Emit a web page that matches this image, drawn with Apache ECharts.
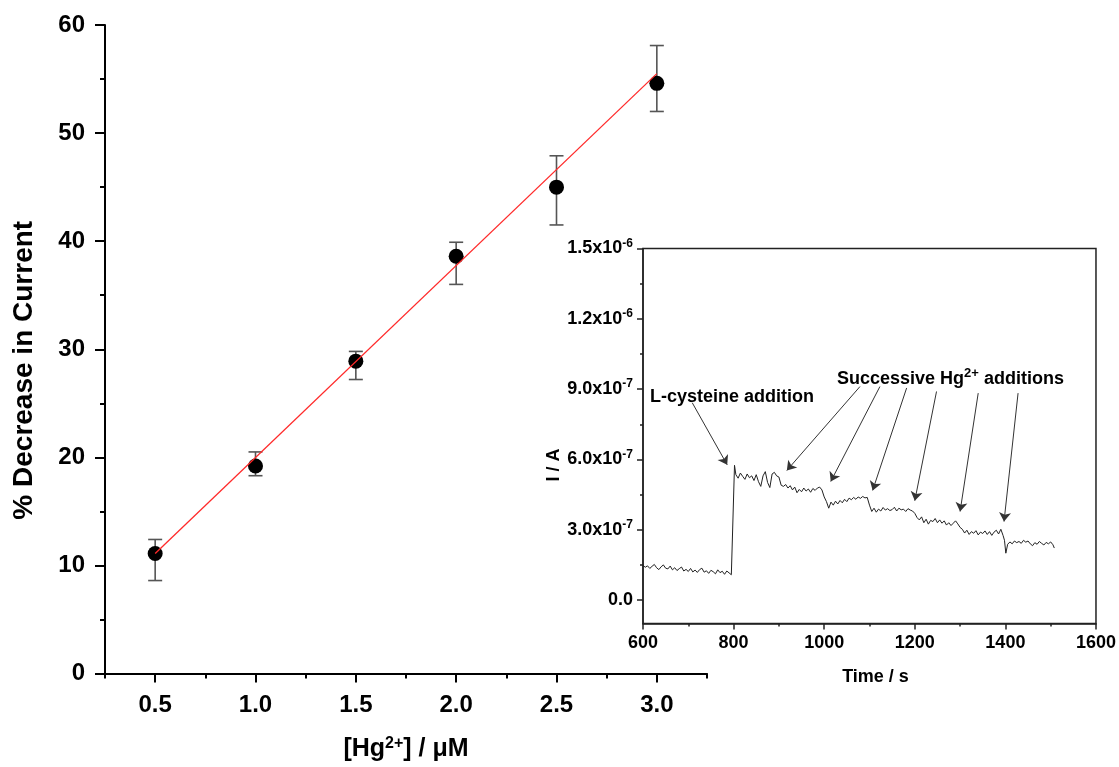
<!DOCTYPE html>
<html>
<head>
<meta charset="utf-8">
<script src="https://cdn.jsdelivr.net/npm/echarts@6/dist/echarts.min.js"></script>
<style>html,body{margin:0;padding:0;background:#fff;}#c{width:1119px;height:767px;}</style>
</head>
<body>
<div id="c"></div>
<script>
// ---- Main calibration plot ----
const hgConc = [0.5, 1.0, 1.5, 2.0, 2.5, 3.0];
const decreasePct = [11.1, 19.2, 28.9, 38.6, 45.0, 54.6];
const errUpper = [12.4, 20.5, 29.8, 39.9, 47.9, 58.1];
const errLower = [8.6, 18.3, 27.2, 36.0, 41.5, 52.0];
const fitConc = [0.5, 3.0];
const fitPct = [11.1, 55.5];
const mainXTicks = [0.5, 1.0, 1.5, 2.0, 2.5, 3.0];
const mainXMinorTicks = [0.25, 0.75, 1.25, 1.75, 2.25, 2.75, 3.25];

// ---- Inset amperometric trace (current in units of 1e-7 A) ----
const traceTime = [
 600,605,610,615,620,625,630,635,640,645,650,655,660,665,670,675,680,685,690,695,
 700,705,710,715,720,725,730,735,740,745,750,755,760,765,770,775,780,785,790,795,
 799,802,805,810,815,820,825,830,835,840,845,850,855,860,865,870,875,880,885,890,895,
 900,905,910,915,920,925,930,935,940,945,950,955,960,965,970,975,980,985,990,995,
 1000,1005,1010,1015,1020,1025,1030,1035,1040,1045,1050,1055,1060,1065,1070,1075,1080,1085,1090,1095,
 1100,1105,1110,1115,1120,1125,1130,1135,1140,1145,1150,1155,1160,1165,1170,1175,1180,1185,1190,1195,
 1200,1205,1210,1215,1220,1225,1230,1235,1240,1245,1250,1255,1260,1265,1270,1275,1280,1285,1290,1295,
 1300,1305,1310,1315,1320,1325,1330,1335,1340,1345,1350,1355,1360,1365,1370,1375,1380,1385,1390,1395,
 1398,1401,1405,1410,1415,1420,1425,1430,1435,1440,1445,1450,1455,1460,1465,1470,1475,1480,1485,1490,1495,
 1500,1505,1508
];
const traceCurrent = [
 1.48,1.40,1.46,1.35,1.44,1.52,1.38,1.30,1.42,1.50,1.36,1.33,1.45,1.29,1.38,1.26,1.34,1.41,1.24,1.31,
 1.22,1.35,1.20,1.28,1.18,1.30,1.36,1.19,1.25,1.14,1.27,1.21,1.12,1.29,1.17,1.23,1.10,1.24,1.16,1.08,
 1.05,5.75,5.35,5.20,5.42,5.28,5.15,5.38,5.22,5.30,5.10,5.35,5.05,4.85,5.30,5.48,5.02,4.80,5.38,5.45,5.30,
 5.25,4.90,4.85,4.93,4.78,4.88,4.70,4.82,4.58,4.72,4.62,4.78,4.65,4.74,4.60,4.76,4.68,4.78,4.82,4.70,
 4.40,4.20,3.92,4.18,4.05,4.22,4.10,4.25,4.15,4.30,4.20,4.35,4.28,4.38,4.30,4.40,4.34,4.42,4.36,4.38,
 4.05,3.78,3.92,3.75,3.88,3.80,3.95,3.84,3.90,3.82,3.86,3.96,3.80,3.92,3.85,3.88,3.78,3.90,3.84,3.80,
 3.70,3.52,3.42,3.55,3.30,3.45,3.24,3.40,3.35,3.48,3.30,3.42,3.28,3.38,3.20,3.30,3.18,3.28,3.38,3.25,
 3.10,3.02,2.86,2.98,2.80,2.92,2.85,2.96,2.78,2.90,2.84,2.95,2.80,2.92,2.76,2.90,2.98,2.82,3.02,2.75,
 2.55,2.00,2.38,2.48,2.40,2.52,2.45,2.50,2.42,2.55,2.47,2.52,2.40,2.32,2.45,2.38,2.50,2.42,2.35,2.46,2.40,
 2.48,2.36,2.22
];
const insetXTickLabels = ['600', '800', '1000', '1200', '1400', '1600'];
const insetYTickValues = [0, 3, 6, 9, 12, 15];
const insetYTickLabels = ['0.0', '3.0x10{sup|-7}', '6.0x10{sup|-7}', '9.0x10{sup|-7}', '1.2x10{sup|-6}', '1.5x10{sup|-6}'];
const insetYMinorTicks = [1.5, 4.5, 7.5, 10.5, 13.5];

// Annotation arrows: [fromTime, fromCurrent, toTime, toCurrent]
const lcysArrow = [708.7, 8.42, 785.9, 5.77];
const hgArrowsFrom = [[1079, 9.11], [1123, 9.11], [1182, 9.05], [1248, 8.90], [1340, 8.83], [1428, 8.83]];
const hgArrowsTo = [[917.5, 5.53], [1014.5, 5.06], [1107, 4.68], [1200, 4.24], [1300, 3.78], [1397, 3.35]];

const FONT = "'Liberation Sans', Arial, sans-serif";
const chart = echarts.init(document.getElementById('c'), null, {renderer: 'canvas'});

const arrowData = [[{coord: [lcysArrow[0], lcysArrow[1]]}, {coord: [lcysArrow[2], lcysArrow[3]]}]]
  .concat(hgArrowsFrom.map((f, i) => [{coord: f}, {coord: hgArrowsTo[i]}]));

const option = {
  animation: false,
  backgroundColor: '#fff',
  grid: [
    {left: 105, top: 25, width: 602, height: 650},
    {left: 643, top: 248.5, width: 453, height: 375, show: true, borderColor: '#222', borderWidth: 1.5, backgroundColor: 'rgba(0,0,0,0)'}
  ],
  xAxis: [
    {
      type: 'value', gridIndex: 0, min: 0.25, max: 3.25, position: 'bottom',
      axisLine: {show: true, onZero: false, lineStyle: {color: '#000', width: 2}},
      axisTick: {show: true, customValues: mainXTicks, length: 9, lineStyle: {color: '#000', width: 2}},
      axisLabel: {show: true, customValues: mainXTicks, margin: 20, formatter: v => v.toFixed(1),
        color: '#000', fontSize: 24, fontWeight: 'bold', fontFamily: FONT},
      splitLine: {show: false},
      name: '[Hg{sup|2+}] / μM', nameLocation: 'middle', nameGap: 62,
      nameTextStyle: {color: '#000', fontSize: 25, fontWeight: 'bold', fontFamily: FONT,
        rich: {sup: {fontSize: 16, fontWeight: 'bold', fontFamily: FONT, color: '#000', padding: [0, 0, 12, 0]}}}
    },
    {
      type: 'value', gridIndex: 0, min: 0.25, max: 3.25, position: 'bottom',
      axisLine: {show: false, onZero: false},
      axisTick: {show: true, customValues: mainXMinorTicks, length: 5, lineStyle: {color: '#000', width: 2}},
      axisLabel: {show: false}, splitLine: {show: false}
    },
    {
      type: 'value', gridIndex: 1, min: 600, max: 1600, interval: 200, position: 'bottom',
      axisLine: {show: true, onZero: false, lineStyle: {color: '#222', width: 1.5}},
      axisTick: {show: true, length: 6, lineStyle: {color: '#222', width: 1.5}},
      minorTick: {show: true, splitNumber: 2, length: 3, lineStyle: {color: '#222', width: 1.5}},
      axisLabel: {margin: 11, color: '#000', fontSize: 18, fontWeight: 'bold', fontFamily: FONT,
        formatter: v => insetXTickLabels[Math.round((v - 600) / 200)] || ''},
      splitLine: {show: false},
      name: 'Time / s', nameLocation: 'middle', nameGap: 45,
      nameTextStyle: {color: '#000', fontSize: 18, fontWeight: 'bold', fontFamily: FONT, padding: [0, 0, 0, 12]}
    }
  ],
  yAxis: [
    {
      type: 'value', gridIndex: 0, min: 0, max: 60, interval: 10,
      axisLine: {show: true, onZero: false, lineStyle: {color: '#000', width: 2}},
      axisTick: {show: true, length: 10, lineStyle: {color: '#000', width: 2}},
      minorTick: {show: true, splitNumber: 2, length: 5, lineStyle: {color: '#000', width: 2}},
      axisLabel: {margin: 20, color: '#000', fontSize: 24, fontWeight: 'bold', fontFamily: FONT},
      splitLine: {show: false},
      name: '% Decrease in Current', nameLocation: 'middle', nameGap: 67, nameRotate: 90,
      nameTextStyle: {color: '#000', fontSize: 28, fontWeight: 'bold', fontFamily: FONT, padding: [0, 42, 0, 0]}
    },
    {
      type: 'value', gridIndex: 1, min: -1, max: 15, position: 'left',
      axisLine: {show: true, onZero: false, lineStyle: {color: '#222', width: 1.5}},
      axisTick: {show: true, customValues: insetYTickValues, length: 6, lineStyle: {color: '#222', width: 1.5}},
      axisLabel: {show: true, customValues: insetYTickValues, margin: 10,
        formatter: v => insetYTickLabels[insetYTickValues.indexOf(Math.round(v))] || '',
        color: '#000', fontSize: 18, fontWeight: 'bold', fontFamily: FONT,
        rich: {sup: {fontSize: 12, fontWeight: 'bold', fontFamily: FONT, color: '#000', padding: [0, 0, 10, 0]}}},
      splitLine: {show: false},
      name: 'I / A', nameLocation: 'middle', nameGap: 66, nameRotate: 90,
      nameTextStyle: {color: '#000', fontSize: 18, fontWeight: 'bold', fontFamily: FONT, padding: [0, 58, 0, 0]}
    },
    {
      type: 'value', gridIndex: 1, min: -1, max: 15, position: 'left',
      axisLine: {show: false, onZero: false},
      axisTick: {show: true, customValues: insetYMinorTicks, length: 3, lineStyle: {color: '#222', width: 1.5}},
      axisLabel: {show: false}, splitLine: {show: false}
    }
  ],
  series: [
    {
      type: 'custom', xAxisIndex: 0, yAxisIndex: 0, z: 3,
      data: hgConc.map((c, i) => [c, errLower[i], errUpper[i]]),
      encode: {x: 0, y: [1, 2]},
      renderItem: function (params, api) {
        const x = api.value(0);
        const lo = api.coord([x, api.value(1)]);
        const hi = api.coord([x, api.value(2)]);
        const w = 7;
        const st = {stroke: '#555', lineWidth: 1.6};
        return {type: 'group', children: [
          {type: 'line', shape: {x1: lo[0], y1: lo[1], x2: hi[0], y2: hi[1]}, style: st},
          {type: 'line', shape: {x1: hi[0] - w, y1: hi[1], x2: hi[0] + w, y2: hi[1]}, style: st},
          {type: 'line', shape: {x1: lo[0] - w, y1: lo[1], x2: lo[0] + w, y2: lo[1]}, style: st}
        ]};
      }
    },
    {
      type: 'scatter', xAxisIndex: 0, yAxisIndex: 0, z: 4,
      symbol: 'circle', symbolSize: 15, itemStyle: {color: '#000', opacity: 1},
      data: hgConc.map((c, i) => [c, decreasePct[i]])
    },
    {
      type: 'line', xAxisIndex: 0, yAxisIndex: 0, z: 5,
      showSymbol: false, symbol: 'none',
      lineStyle: {color: '#ff2a2a', width: 1.3},
      data: fitConc.map((c, i) => [c, fitPct[i]])
    },
    {
      type: 'line', xAxisIndex: 2, yAxisIndex: 1, z: 3,
      showSymbol: false, symbol: 'none',
      lineStyle: {color: '#222', width: 1},
      data: traceTime.map((t, i) => [t, traceCurrent[i]]),
      markLine: {
        silent: true, symbol: ['none', 'arrow'], symbolSize: 9,
        label: {show: false},
        lineStyle: {color: '#333', width: 1, type: 'solid'},
        itemStyle: {color: '#333'},
        emphasis: {disabled: true},
        data: arrowData
      }
    }
  ],
  graphic: [
    {type: 'text', left: 650, top: 388, z: 10,
      style: {text: 'L-cysteine addition', fill: '#000', font: "bold 18px 'Liberation Sans', Arial, sans-serif"}},
    {type: 'text', left: 837, top: 367, z: 10,
      style: {text: 'Successive Hg{sup|2+} additions', fill: '#000', font: "bold 18px 'Liberation Sans', Arial, sans-serif",
        rich: {sup: {fontSize: 13, fontWeight: 'bold', fontFamily: FONT, fill: '#000', padding: [0, 0, 12, 0]}}}}
  ]
};
chart.setOption(option);
</script>
</body>
</html>
